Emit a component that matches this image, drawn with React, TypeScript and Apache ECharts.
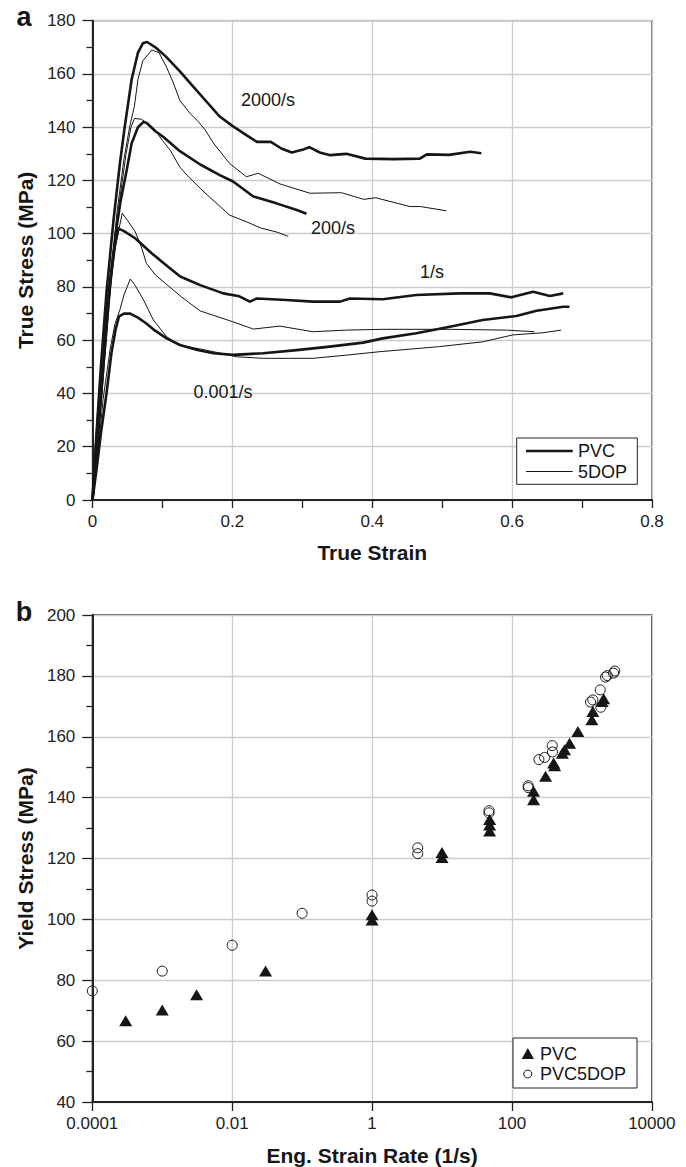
import React, { useEffect, useRef } from 'react';
import * as echarts from 'echarts';

const FONT = '"Liberation Sans", Arial, Helvetica, sans-serif';
const INK = '#161616';

// ---- Panel a: true stress (MPa) vs true strain ----
const pvc2000 = [[0,0],[0.005,22],[0.012,50],[0.02,78],[0.03,105],[0.039,126],[0.046,140],[0.056,158],[0.065,168],[0.072,171.5],[0.078,172],[0.09,170],[0.105,166.5],[0.125,161],[0.145,155],[0.16,150.5],[0.182,144],[0.2,140.5],[0.22,137],[0.235,134.5],[0.255,134.5],[0.27,132],[0.285,130.5],[0.3,131.5],[0.31,132.5],[0.325,130.5],[0.34,129.5],[0.363,130],[0.39,128.2],[0.43,128],[0.468,128.2],[0.478,129.8],[0.51,129.6],[0.54,130.8],[0.556,130.2]];
const dop2000 = [[0,0],[0.008,22],[0.016,50],[0.025,80],[0.035,108],[0.045,128],[0.053,140],[0.06,148],[0.065,158],[0.072,165],[0.085,169],[0.095,168],[0.106,162.5],[0.115,157],[0.125,150],[0.14,145],[0.15,142.5],[0.161,139],[0.173,134],[0.196,126.4],[0.22,121.4],[0.237,122.7],[0.268,118.7],[0.311,115.2],[0.356,115.4],[0.388,112.9],[0.405,113.5],[0.454,110.2],[0.469,110.2],[0.506,108.6]];
const pvc200 = [[0,0],[0.008,25],[0.016,52],[0.025,80],[0.033,100],[0.04,112],[0.049,124],[0.056,134],[0.065,140],[0.073,142],[0.078,141.5],[0.09,138.5],[0.101,136.4],[0.125,131],[0.154,126],[0.182,122],[0.201,119.6],[0.23,114],[0.263,111.4],[0.292,108.9],[0.306,107.5]];
const dop200 = [[0,0],[0.008,22],[0.016,48],[0.025,78],[0.033,100],[0.04,115],[0.048,130],[0.055,140],[0.06,143.3],[0.07,143],[0.078,141.5],[0.092,138],[0.1,135],[0.111,131.4],[0.125,125],[0.135,122],[0.158,116],[0.175,112],[0.196,107],[0.22,104.5],[0.24,102.2],[0.265,100.5],[0.28,99]];
const pvc1 = [[0,0],[0.005,20],[0.01,40],[0.017,62],[0.024,80],[0.03,93],[0.037,102],[0.045,101],[0.061,98.3],[0.085,92.6],[0.108,87.6],[0.125,84],[0.132,83.2],[0.154,80.7],[0.187,77.6],[0.21,76.5],[0.225,74.5],[0.235,75.7],[0.277,75.1],[0.315,74.5],[0.354,74.5],[0.368,75.7],[0.415,75.4],[0.463,77],[0.525,77.6],[0.568,77.6],[0.599,76.1],[0.63,78.2],[0.654,76.6],[0.673,77.6]];
const dop1 = [[0,0],[0.006,20],[0.012,42],[0.02,65],[0.027,83],[0.034,97],[0.0426,107.7],[0.05,105],[0.061,100.8],[0.07,95],[0.077,88.9],[0.09,84.5],[0.104,81.4],[0.127,76.3],[0.154,71],[0.2,67],[0.23,64.2],[0.268,65.3],[0.315,63.2],[0.363,63.8],[0.415,64.1],[0.511,64.1],[0.592,63.8],[0.632,63.2]];
const pvc0001 = [[0,0],[0.006,12],[0.012,25],[0.02,40],[0.027,55],[0.033,64],[0.038,69],[0.045,70],[0.054,70],[0.065,68.5],[0.077,66.3],[0.09,63.5],[0.106,60.7],[0.125,58.2],[0.15,56.3],[0.173,55.1],[0.201,54.5],[0.244,55.1],[0.292,56.3],[0.339,57.6],[0.387,59.1],[0.415,60.7],[0.463,62.6],[0.511,65.1],[0.558,67.6],[0.606,69.1],[0.635,71.1],[0.673,72.6],[0.682,72.6]];
const dop0001 = [[0,0],[0.006,12.5],[0.015,37.6],[0.025,56.3],[0.032,66],[0.039,71.3],[0.045,77],[0.054,83],[0.06,81],[0.073,75.1],[0.087,67.6],[0.106,61.3],[0.125,58.2],[0.173,55.7],[0.206,53.8],[0.244,53.2],[0.315,53.2],[0.363,54.4],[0.411,55.7],[0.496,57.6],[0.558,59.4],[0.601,62],[0.644,62.8],[0.67,63.8]];

const rateLabels = ['2000/s', '200/s', '1/s', '0.001/s'];

// ---- Panel b: yield stress vs engineering strain rate ----
const pvcRate = [0.0003, 0.001, 0.0031, 0.03, 1, 1, 10, 10, 48, 48, 48, 204, 204, 303, 394, 408, 525, 566, 667, 877, 1390, 1435, 1950, 2050];
const pvcYield = [66.7, 70.2, 75.2, 83, 101.5, 99.8, 122, 120.3, 132.8, 131, 129, 142.1, 139.3, 147, 151.4, 150.5, 154.6, 155.7, 157.9, 161.7, 165.6, 168.3, 171.6, 172.5];
const dopRate = [0.0001, 0.001, 0.01, 0.1, 1, 1, 4.5, 4.5, 47, 47, 171, 171, 243, 293, 377, 380, 1330, 1435, 1830, 1870, 2180, 2310, 2840, 2960];
const dopYield = [76.5, 83, 91.5, 102, 108, 106, 123.5, 121.6, 135.7, 135, 143.9, 143.3, 152.5, 153.2, 157.1, 155, 171.4, 172.1, 175.4, 169.7, 179.6, 180.1, 180.9, 181.6];

const zip = (xs: number[], ys: number[]) => xs.map((x, i) => [x, ys[i]]);

const tickFont = { fontFamily: FONT, fontSize: 17, color: '#222' };
const nameFont = { fontFamily: FONT, fontSize: 21, fontWeight: 'bold' as const, color: INK };
const axisLine = { show: true, onZero: false, lineStyle: { color: '#222', width: 2 } };
const split = { show: true, lineStyle: { color: '#cccccc', width: 1.3 } };

function txt(text: string, x: number, y: number, size = 18, weight = 'normal', align = 'center') {
  return {
    type: 'text', x, y, z: 100,
    style: {
      text, fill: INK, fontFamily: FONT, fontSize: size, fontWeight: weight,
      align, verticalAlign: 'middle', textAlign: align, textVerticalAlign: 'middle',
    },
  };
}

export default function App() {
  const ref = useRef<HTMLDivElement>(null);
  useEffect(() => {
    const chart = echarts.init(ref.current!, null, { renderer: 'svg' });
    const curves = [
      { name: 'PVC', data: pvc2000, w: 2.6 },
      { name: '5DOP', data: dop2000, w: 1 },
      { name: 'PVC', data: pvc200, w: 2.6 },
      { name: '5DOP', data: dop200, w: 1 },
      { name: 'PVC', data: pvc1, w: 2.6 },
      { name: '5DOP', data: dop1, w: 1 },
      { name: 'PVC', data: pvc0001, w: 2.6 },
      { name: '5DOP', data: dop0001, w: 1 },
    ];
    const option: any = {
      animation: false,
      textStyle: { fontFamily: FONT },
      grid: [
        { left: 92.5, top: 20.7, width: 559.5, height: 479.3, show: true, borderColor: '#333', borderWidth: 1.3 },
        { left: 92.3, top: 615, width: 559.5, height: 488, show: true, borderColor: '#333', borderWidth: 1.3 },
      ],
      xAxis: [
        {
          gridIndex: 0, type: 'value', min: 0, max: 0.8, interval: 0.2,
          axisLine, axisTick: { show: true, length: 8, lineStyle: { color: '#222', width: 1.3 } },
          minorTick: { show: true, splitNumber: 2, length: 8, lineStyle: { color: '#222', width: 1.3 } },
          splitLine: split, axisLabel: { ...tickFont, margin: 13 },
          name: 'True Strain', nameLocation: 'middle', nameGap: 42, nameTextStyle: nameFont,
        },
        {
          gridIndex: 1, type: 'log', logBase: 10, min: 0.0001, max: 10000, interval: 2,
          axisLine, axisTick: { show: true, length: 9, lineStyle: { color: '#222', width: 1.3 } },
          minorTick: { show: false }, splitLine: split,
          axisLabel: {
            ...tickFont, margin: 13,
            formatter: (v: number) => {
              const e = Math.round(Math.log10(v));
              return e < 0 ? Math.pow(10, e).toFixed(-e) : String(Math.round(Math.pow(10, e)));
            },
          },
          name: 'Eng. Strain Rate (1/s)', nameLocation: 'middle', nameGap: 43, nameTextStyle: nameFont,
        },
      ],
      yAxis: [
        {
          gridIndex: 0, type: 'value', min: 0, max: 180, interval: 20,
          axisLine, axisTick: { show: true, length: 10, lineStyle: { color: '#222', width: 1.3 } },
          minorTick: { show: true, splitNumber: 2, length: 6, lineStyle: { color: '#222', width: 1.3 } },
          splitLine: split, axisLabel: { ...tickFont, margin: 17 },
          name: 'True Stress (MPa)', nameLocation: 'middle', nameGap: 52, nameTextStyle: nameFont,
        },
        {
          gridIndex: 1, type: 'value', min: 40, max: 200, interval: 20,
          axisLine, axisTick: { show: true, length: 10, lineStyle: { color: '#222', width: 1.3 } },
          minorTick: { show: true, splitNumber: 2, length: 6, lineStyle: { color: '#222', width: 1.3 } },
          splitLine: split, axisLabel: { ...tickFont, margin: 17 },
          name: 'Yield Stress (MPa)', nameLocation: 'middle', nameGap: 52, nameTextStyle: nameFont,
        },
      ],
      series: [
        ...curves.map((c) => ({
          type: 'line', name: c.name, xAxisIndex: 0, yAxisIndex: 0, data: c.data,
          showSymbol: false, symbol: 'none', silent: true,
          lineStyle: { color: INK, width: c.w, join: 'round', opacity: 1 },
        })),
        {
          type: 'scatter', name: 'PVC', xAxisIndex: 1, yAxisIndex: 1, data: zip(pvcRate, pvcYield),
          symbol: 'triangle', symbolSize: [13, 11], itemStyle: { color: INK, opacity: 1 }, silent: true,
        },
        {
          type: 'scatter', name: 'PVC5DOP', xAxisIndex: 1, yAxisIndex: 1, data: zip(dopRate, dopYield),
          symbol: 'circle', symbolSize: 10, silent: true,
          itemStyle: { color: 'rgba(0,0,0,0)', borderColor: INK, borderWidth: 1, opacity: 1 },
        },
      ],
      graphic: [
        txt('a', 24, 17, 27, 'bold'),
        txt('b', 24, 612, 27, 'bold'),
        txt(rateLabels[0], 268, 100),
        txt(rateLabels[1], 333, 228),
        txt(rateLabels[2], 432, 272),
        txt(rateLabels[3], 223, 392),
        // legend a
        { type: 'rect', z: 90, shape: { x: 516.7, y: 438, width: 120.6, height: 46.3 }, style: { fill: '#fff', stroke: '#222', lineWidth: 1 } },
        { type: 'line', z: 100, shape: { x1: 526, y1: 451, x2: 572.7, y2: 451 }, style: { stroke: INK, lineWidth: 2.6 } },
        { type: 'line', z: 100, shape: { x1: 526, y1: 471.5, x2: 572.7, y2: 471.5 }, style: { stroke: INK, lineWidth: 1 } },
        txt('PVC', 578, 451, 18, 'normal', 'left'),
        txt('5DOP', 578, 471.5, 18, 'normal', 'left'),
        // legend b
        { type: 'rect', z: 90, shape: { x: 513, y: 1038, width: 124, height: 50 }, style: { fill: '#fff', stroke: '#222', lineWidth: 1 } },
        { type: 'polygon', z: 100, shape: { points: [[521.7, 1059], [534, 1059], [527.85, 1048]] }, style: { fill: INK } },
        { type: 'circle', z: 100, shape: { cx: 527.8, cy: 1074, r: 4 }, style: { fill: 'none', stroke: INK, lineWidth: 1 } },
        txt('PVC', 540, 1053.5, 18, 'normal', 'left'),
        txt('PVC5DOP', 540, 1074, 18, 'normal', 'left'),
      ],
    };
    chart.setOption(option);
    return () => chart.dispose();
  }, []);
  return <div ref={ref} style={{ position: 'absolute', left: 0, top: 0, width: 686, height: 1167 }} />;
}
